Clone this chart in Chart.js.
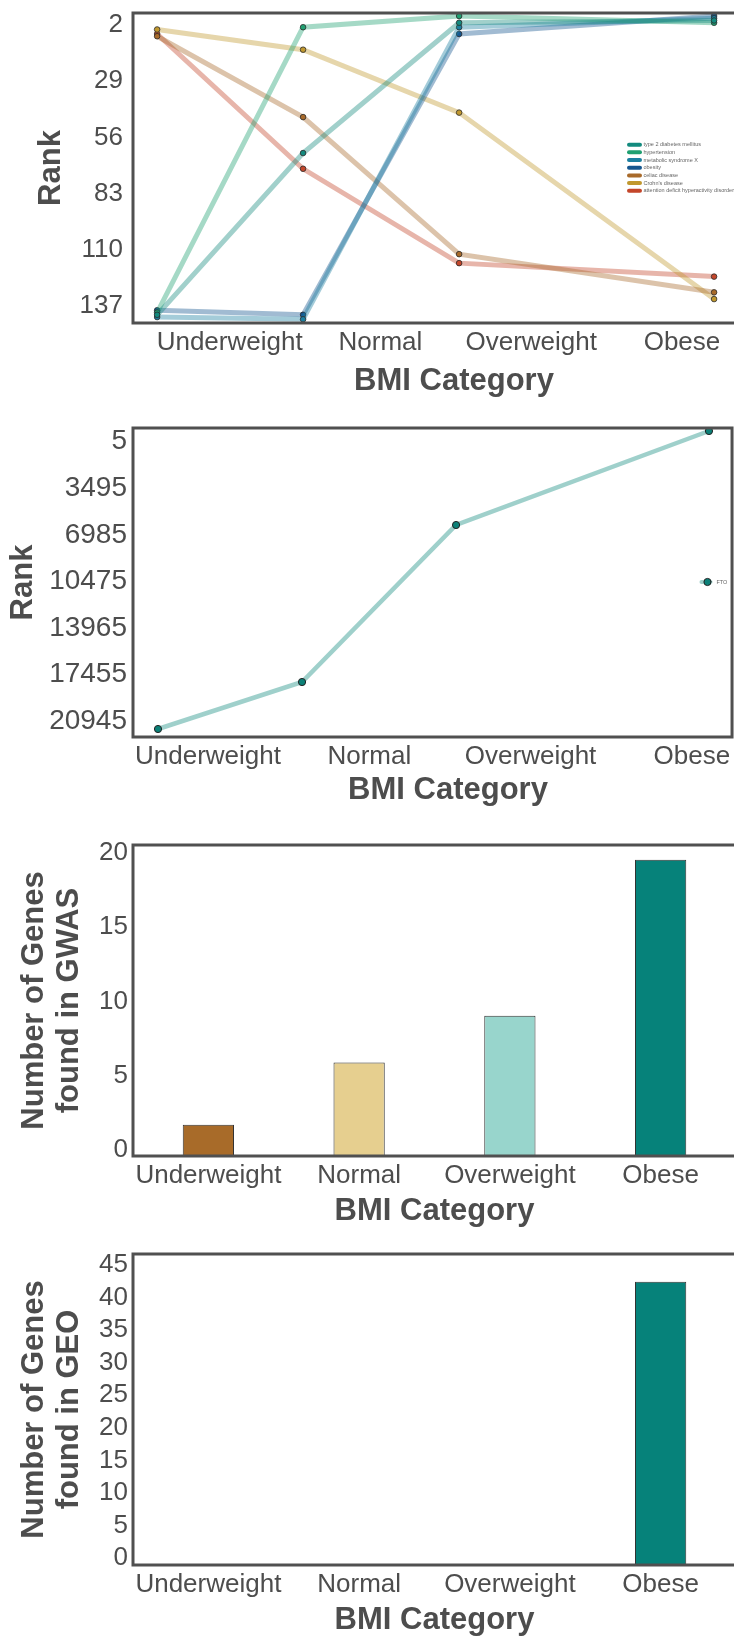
<!DOCTYPE html>
<html>
<head>
<meta charset="utf-8">
<script src="https://cdn.jsdelivr.net/npm/chart.js@4.4.1/dist/chart.umd.min.js"></script>
<style>
  html, body { margin: 0; padding: 0; background: #fff; overflow: hidden; }
  body { position: relative; width: 734px; height: 1636px; }
  canvas { position: absolute; left: 0; }
</style>
</head>
<body>
<canvas id="diseaseRanks" width="780" height="400" style="top:0px"></canvas>
<canvas id="ftoRanks" width="770" height="410" style="top:400px"></canvas>
<canvas id="gwasCounts" width="740" height="420" style="top:810px"></canvas>
<canvas id="geoCounts" width="740" height="410" style="top:1230px"></canvas>
<script>
// ---- data ----
const bmiCategories = ['Underweight', 'Normal', 'Overweight', 'Obese'];

// disease rank per BMI category (1 = top ranked)
const diseaseNames = ['type 2 diabetes mellitus', 'hypertension', 'metabolic syndrome X', 'obesity',
                      'celiac disease', "Crohn's disease", 'attention deficit hyperactivity disorder'];
const t2dRank          = [135, 63, 5, 4];
const hypertensionRank = [134, 7, 2, 5];
const metabolicRank    = [136, 137, 7, 3];
const obesityRank      = [133, 135, 10, 2];
const celiacRank       = [11, 47, 108, 125];
const crohnRank        = [8, 17, 45, 128];
const adhdRank         = [10, 70, 112, 118];
// where each category's rank markers sit along the category axis
const diseaseX = [-0.481, 0.487, 1.522, 3.213];
const rankTickLabels = [2, 29, 56, 83, 110, 137];

// FTO gene rank per BMI category
const ftoRank = [20945, 17643, 6610, 5];
const ftoX = [-0.31, 0.583, 1.538, 3.106];
const ftoTickLabels = [5, 3495, 6985, 10475, 13965, 17455, 20945];

// number of genes per BMI category
const gwasGenes = [2, 6, 9, 19];
const geoGenes = [0, 0, 0, 41];
const gwasTickLabels = [0, 5, 10, 15, 20];
const geoTickLabels = [0, 5, 10, 15, 20, 25, 30, 35, 40, 45];

// ---- styling ----
const FONT = "'Liberation Sans', Arial, Helvetica, sans-serif";
const INK = '#4d4d4d';
const diseaseColors = ['#138a7e', '#1fa071', '#1c7fa0', '#15568f', '#a86a2a', '#c1982e', '#c4462a'];
const barColors = ['#a86b29', '#e6cf8f', '#98d5cc', '#06827a'];
const ftoColor = '#0b8077';

Chart.defaults.font.family = FONT;
Chart.defaults.color = INK;

function rgba(hex, a) {
  const n = parseInt(hex.slice(1), 16);
  return `rgba(${(n >> 16) & 255},${(n >> 8) & 255},${n & 255},${a})`;
}

// tick labels are laid out evenly over a band [lo, hi] of the value axis
function spreadTicks(labels, lo, hi) {
  const a = labels[0], b = labels[labels.length - 1];
  return scale => {
    scale.ticks = labels.map(v => ({ value: lo + (v - a) / (b - a) * (hi - lo) }));
  };
}

// dark box around the plotting area
const framePlugin = {
  id: 'frame',
  afterDatasetsDraw(chart, _args, opts) {
    const { ctx, chartArea: a } = chart;
    const right = opts.xMax !== undefined ? chart.scales.x.getPixelForValue(opts.xMax) : a.right;
    ctx.save();
    ctx.strokeStyle = '#505050';
    ctx.lineWidth = 3;
    ctx.strokeRect(a.left, a.top, right - a.left, a.bottom - a.top);
    ctx.restore();
  }
};

// small in-plot key built from the datasets
const keyPlugin = {
  id: 'key',
  afterDraw(chart, _args, o) {
    if (!o || o.left === undefined) return;
    const ctx = chart.ctx;
    ctx.save();
    ctx.font = `${o.fontSize}px ${FONT}`;
    ctx.textBaseline = 'middle';
    chart.data.datasets.forEach((ds, i) => {
      const y = o.top + i * o.gap;
      ctx.strokeStyle = o.useLineColor ? ds.borderColor : ds.pointBackgroundColor;
      ctx.lineWidth = o.swatchWidth;
      ctx.lineCap = 'round';
      ctx.beginPath();
      ctx.moveTo(o.left + 2, y);
      ctx.lineTo(o.left + o.swatchLen - 2, y);
      ctx.stroke();
      if (o.dot) {
        ctx.beginPath();
        ctx.arc(o.left + o.dotX, y, ds.pointRadius, 0, Math.PI * 2);
        ctx.fillStyle = ds.pointBackgroundColor;
        ctx.fill();
        ctx.lineWidth = ds.pointBorderWidth;
        ctx.strokeStyle = ds.pointBorderColor;
        ctx.stroke();
      }
      ctx.fillStyle = o.textColor;
      ctx.fillText(ds.label, o.left + o.swatchLen + o.textGap, y);
    });
    ctx.restore();
  }
};

function hiddenGrid() {
  return { grid: { display: false, drawTicks: false }, border: { display: false } };
}

function categoryTitle(padBottom) {
  return { display: true, text: 'BMI Category', color: INK,
           font: { size: 31, weight: 'bold', lineHeight: 1.16 }, padding: { top: 0, bottom: padBottom } };
}

function fixedHeight(h) {
  return s => { s.height = h; s.paddingLeft = 0; s.paddingRight = 0; };
}

function linearCategoryAxis(min, max, height, padBottom) {
  return Object.assign(hiddenGrid(), {
    type: 'linear', min, max,
    afterBuildTicks: s => { s.ticks = bmiCategories.map((_, i) => ({ value: i })); },
    afterFit: fixedHeight(height),
    ticks: { autoSkip: false, maxRotation: 0, minRotation: 0, padding: 4,
             font: { size: 26 }, color: INK, callback: (v, i) => bmiCategories[i] },
    title: categoryTitle(padBottom)
  });
}

function valueAxis(opts) {
  return Object.assign(hiddenGrid(), {
    reverse: !!opts.reverse, min: opts.min, max: opts.max,
    afterBuildTicks: spreadTicks(opts.labels, opts.band[0], opts.band[1]),
    afterFit: s => { s.width = 133; s.paddingTop = 0; s.paddingBottom = 0; },
    ticks: { autoSkip: false, padding: opts.pad, font: { size: opts.fontSize || 26 }, color: INK,
             callback: (v, i) => String(opts.labels[i]) },
    title: { display: true, text: opts.title, color: INK,
             font: { size: 31, weight: 'bold', lineHeight: 1.16 }, padding: { top: opts.titlePad } }
  });
}

const baseOptions = {
  responsive: false,
  animation: false,
  events: []
};

// ---- disease rank trajectories ----
const diseaseSeries = [t2dRank, hypertensionRank, metabolicRank, obesityRank, celiacRank, crohnRank, adhdRank];
new Chart(document.getElementById('diseaseRanks'), {
  type: 'line',
  data: {
    datasets: diseaseNames.map((name, k) => ({
      label: name,
      data: diseaseX.map((x, i) => ({ x, y: diseaseSeries[k][i] })),
      borderColor: rgba(diseaseColors[k], 0.4),
      borderWidth: 5,
      pointBackgroundColor: diseaseColors[k],
      pointBorderColor: '#2b2b2b',
      pointBorderWidth: 0.8,
      pointRadius: 2.8,
      tension: 0,
      clip: false
    }))
  },
  options: Object.assign({}, baseOptions, {
    layout: { padding: { top: 13, right: 5, left: 0, bottom: 0 } },
    plugins: {
      legend: { display: false }, tooltip: { enabled: false },
      key: { left: 627, top: 144.7, gap: 7.67, swatchLen: 15, swatchWidth: 4,
             fontSize: 5.5, textGap: 1.5, textColor: '#666' }
    },
    scales: {
      x: linearCategoryAxis(-0.641, 3.617, 77, 1),
      y: valueAxis({ reverse: true, min: 0.665, max: 138.65, labels: rankTickLabels,
                     band: [6.0, 131.06], pad: 10, title: 'Rank', titlePad: 33 })
    }
  }),
  plugins: [framePlugin, keyPlugin]
});

// ---- FTO rank ----
new Chart(document.getElementById('ftoRanks'), {
  type: 'line',
  data: {
    datasets: [{
      label: 'FTO',
      data: ftoX.map((x, i) => ({ x, y: ftoRank[i] })),
      borderColor: rgba('#0e8a7d', 0.4),
      borderWidth: 4.5,
      pointBackgroundColor: ftoColor,
      pointBorderColor: '#222',
      pointBorderWidth: 1,
      pointRadius: 3.6,
      tension: 0,
      clip: false
    }]
  },
  options: Object.assign({}, baseOptions, {
    layout: { padding: { top: 28, right: 7, left: 0, bottom: 0 } },
    plugins: {
      legend: { display: false }, tooltip: { enabled: false },
      frame: { xMax: 3.249 },
      key: { left: 699.5, top: 182, gap: 8, swatchLen: 13, swatchWidth: 4, useLineColor: true,
             dot: true, dotX: 8, fontSize: 5.5, textGap: 4, textColor: '#666' }
    },
    scales: {
      x: linearCategoryAxis(-0.465, 3.441, 73, 1.5),
      y: valueAxis({ reverse: true, min: -206, max: 21507, labels: ftoTickLabels,
                     band: [757, 20383], pad: 6, fontSize: 28, title: 'Rank', titlePad: 5 })
    }
  }),
  plugins: [framePlugin, keyPlugin]
});

// ---- gene counts ----
function geneBars(id, counts, axisMax, labels, band, padTop, xHeight, titleLines, padBottom) {
  new Chart(document.getElementById(id), {
    type: 'bar',
    data: {
      labels: bmiCategories,
      datasets: [{
        data: counts,
        backgroundColor: barColors,
        borderColor: '#333',
        borderWidth: 1,
        barPercentage: 0.34,
        categoryPercentage: 1
      }]
    },
    options: Object.assign({}, baseOptions, {
      layout: { padding: { top: padTop, right: 4, left: 0, bottom: 0 } },
      plugins: { legend: { display: false }, tooltip: { enabled: false } },
      scales: {
        x: Object.assign(hiddenGrid(), {
          afterFit: fixedHeight(xHeight),
          ticks: { autoSkip: false, maxRotation: 0, minRotation: 0, padding: 4,
                   font: { size: 26 }, color: INK },
          title: categoryTitle(padBottom)
        }),
        y: valueAxis({ min: 0, max: axisMax, labels, band, pad: 5, title: titleLines, titlePad: 16 })
      }
    }),
    plugins: [framePlugin]
  });
}

geneBars('gwasCounts', gwasGenes, 19.95, gwasTickLabels, [0.385, 19.44], 35, 74,
         ['Number of Genes', 'found in GWAS'], 1);
geneBars('geoCounts', geoGenes, 45, geoTickLabels, [1.01, 43.41], 24, 75,
         ['Number of Genes', 'found in GEO'], 2);
</script>
</body>
</html>
